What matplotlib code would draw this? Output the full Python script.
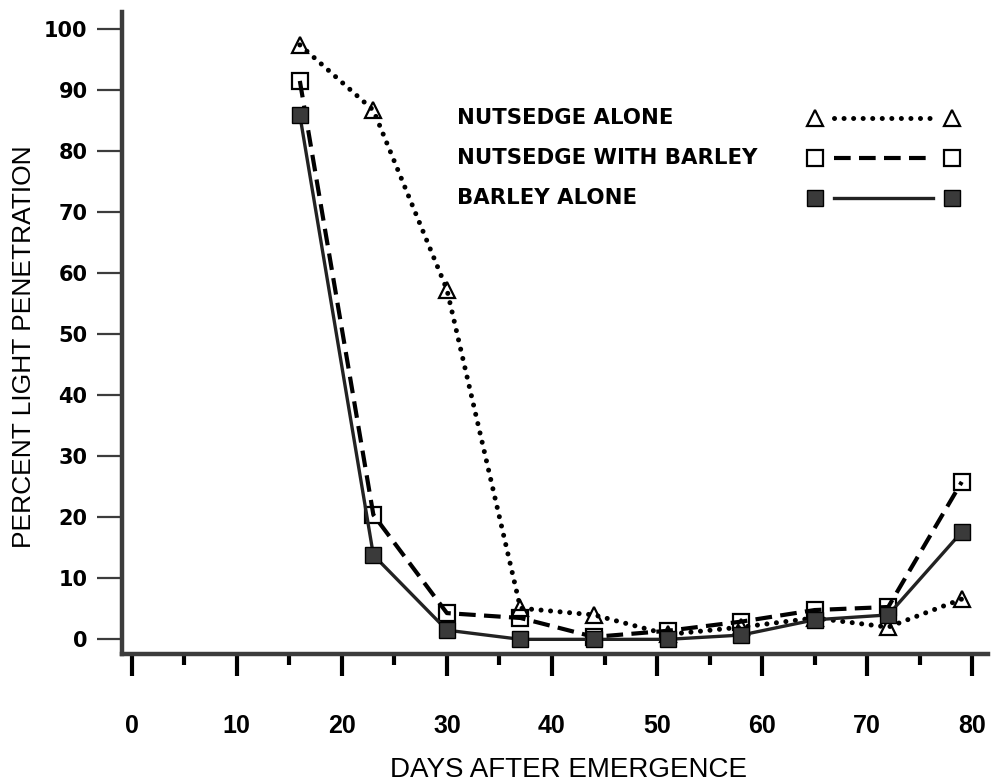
import matplotlib
matplotlib.use("Agg")
import matplotlib.pyplot as plt
from matplotlib.ticker import MultipleLocator

# ---- data ----
days = [16, 23, 30, 37, 44, 51, 58, 65, 72, 79]
nutsedge_alone = [97.4, 86.7, 57.3, 5.1, 4.0, 0.8, 2.0, 3.5, 2.0, 6.6]
nutsedge_with_barley = [91.5, 20.4, 4.3, 3.5, 0.4, 1.4, 2.9, 4.8, 5.3, 25.8]
barley_alone = [85.9, 13.8, 1.5, 0.0, 0.0, 0.0, 0.7, 3.2, 4.0, 17.6]
series_names = ["NUTSEDGE ALONE", "NUTSEDGE WITH BARLEY", "BARLEY ALONE"]
x_ticks = [0, 10, 20, 30, 40, 50, 60, 70, 80]
y_ticks = [0, 10, 20, 30, 40, 50, 60, 70, 80, 90, 100]

fig = plt.figure(figsize=(9.94, 7.82), dpi=100)
ax = fig.add_axes([0.1230, 0.1637, 0.994 - 0.1230, 0.9847 - 0.1637])
ax.set_xlim(-0.9, 81.5)
ax.set_ylim(-2.4, 102.8)

axis_col = "#3c3c3c"
for s in ["top", "right"]:
    ax.spines[s].set_visible(False)
for s in ["left", "bottom"]:
    ax.spines[s].set_color(axis_col)
    ax.spines[s].set_linewidth(3.2)
    ax.spines[s].set_capstyle("projecting")

styles = [
    dict(marker="^", mfc="none", ls=(0, (0.01, 1.9)), lw=3.6,
         dash_capstyle="round", color="black", ms=12, mew=1.6),
    dict(marker="s", mfc="none", ls=(0, (4.0, 2.0)), lw=3.0,
         dash_capstyle="butt", color="black", ms=12, mew=1.6),
    dict(marker="s", mfc="#3a3a3a", ls="-", lw=2.4,
         color="#222222", ms=12, mew=1.0),
]
data = [nutsedge_alone, nutsedge_with_barley, barley_alone]
for vals, st in zip(data, styles):
    ax.plot(days, vals, mec="black", clip_on=False, **st)

# ticks
ax.set_xticks(x_ticks)
ax.xaxis.set_minor_locator(MultipleLocator(5))
ax.set_yticks(y_ticks)
ax.tick_params(axis="x", which="major", direction="out", length=16, width=3,
               color="black", pad=27)
ax.tick_params(axis="x", which="minor", direction="out", length=8, width=3,
               color="black")
ax.tick_params(axis="y", which="major", direction="out", length=18, width=1.6,
               color=axis_col, pad=7)
for lab in ax.get_xticklabels():
    lab.set_fontfamily("Liberation Sans")
    lab.set_fontweight("bold")
    lab.set_fontsize(18)
for lab in ax.get_yticklabels():
    lab.set_fontfamily("DejaVu Sans")
    lab.set_fontweight("bold")
    lab.set_fontsize(15)

ax.set_xlabel("DAYS AFTER EMERGENCE", fontsize=20, family="Liberation Sans")
ax.set_ylabel("PERCENT LIGHT PENETRATION", fontsize=19,
              family="Liberation Sans")
ax.xaxis.set_label_coords(0.515, -0.160)
ax.yaxis.set_label_coords(-0.100, 0.478)

# legend (drawn in axes coordinates)
ax_left, ax_top = 122.3, 12.0
ax_w, ax_h = 988 - 122.3, 654 - 12.0
def fx(px):
    return (px - ax_left) / ax_w
def fy(py):
    return (654 - py) / ax_h

rows = [118, 158, 198]
for name, st, ry in zip(series_names, styles, rows):
    ax.text(fx(457), fy(ry), name, transform=ax.transAxes, ha="left",
            va="center", fontsize=15.3, fontweight="bold", family="DejaVu Sans")
    ax.plot([fx(815), fx(952)], [fy(ry), fy(ry)], transform=ax.transAxes,
            linestyle="none", marker=st["marker"], mfc=st["mfc"], mec="black",
            ms=12, mew=st["mew"], clip_on=False)
    lst = dict(st)
    for k in ("marker", "mfc", "ms", "mew"):
        lst.pop(k)
    ax.plot([fx(834), fx(933)], [fy(ry), fy(ry)], transform=ax.transAxes,
            clip_on=False, **lst)

fig.savefig("out.png", dpi=100)
